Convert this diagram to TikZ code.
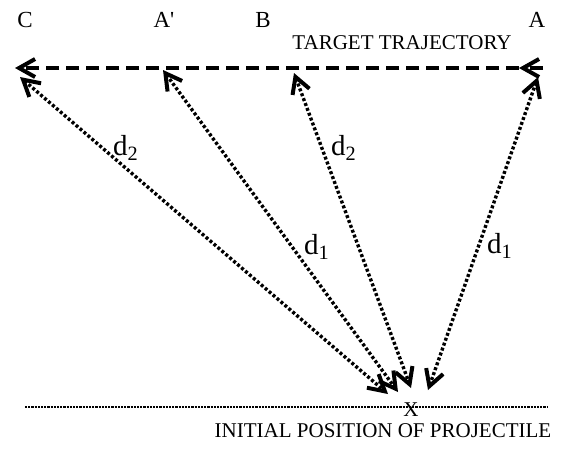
\documentclass[tikz,border=0pt]{standalone}
\usepackage{fontspec}
\setmainfont{Liberation Serif}
\usetikzlibrary{arrows.meta}

\tikzset{
    barb/.tip={Straight Barb[length=8pt, width=9pt, line width=2pt]},
    trajline/.style={line width=1.8pt, dash pattern=on 6.5pt off 3.5pt},
    dotline/.style={line width=1.7pt, dash pattern=on 1.5pt off 1.1pt},
    groundline/.style={line width=1.4pt, dash pattern=on 1.1pt off 0.5pt},
    ptlabel/.style={font=\fontsize{11.5}{13}\selectfont},
    dlabel/.style={font=\fontsize{14.5}{16}\selectfont},
}

\begin{document}
\begin{tikzpicture}[x=0.5pt, y=-0.5pt, font=\fontsize{10.5}{12}\selectfont]
    \useasboundingbox (0,0) rectangle (585,452);

    % Points on the target trajectory
    \node[ptlabel] (C) at (25,20) {C};
    \node[ptlabel] (Ap) at (164,20) {A\textquotesingle};
    \node[ptlabel] (B) at (263,20) {B};
    \node[ptlabel] (A) at (537,20) {A};
    \node (traj) at (402,43) {TARGET TRAJECTORY};

    % Target trajectory
    \coordinate (trajR) at (543,68);
    \coordinate (trajA) at (519,68);
    \coordinate (trajC) at (15,68);
    \draw[trajline, -{barb}] (trajR) -- (trajA);
    \draw[trajline, -{barb}] (trajA) -- (trajC);

    % Ground line and initial position
    \coordinate (gndL) at (25,407);
    \coordinate (gndR) at (548,407);
    \draw[groundline] (gndL) -- (gndR);
    \node (X) at (411,410) {X};
    \node (init) at (383,431) {INITIAL POSITION OF PROJECTILE};

    % Distances
    \coordinate (topC) at (20,77);
    \coordinate (topAp) at (163,70);
    \coordinate (topB) at (294,73);
    \coordinate (topA) at (538,77);
    \coordinate (botC) at (388,394);
    \coordinate (botAp) at (398,392);
    \coordinate (botB) at (411,388);
    \coordinate (botA) at (428,390);
    \draw[dotline, {barb}-{barb}] (topC) -- (botC);
    \draw[dotline, {barb}-{barb}] (topAp) -- (botAp);
    \draw[dotline, {barb}-{barb}] (topB) -- (botB);
    \draw[dotline, {barb}-{barb}] (topA) -- (botA);

    % Distance labels
    \node[dlabel] (dC) at (126,148) {d\textsubscript{2}};
    \node[dlabel] (dAp) at (317,247) {d\textsubscript{1}};
    \node[dlabel] (dB) at (344,148) {d\textsubscript{2}};
    \node[dlabel] (dA) at (500,246) {d\textsubscript{1}};
\end{tikzpicture}
\end{document}
